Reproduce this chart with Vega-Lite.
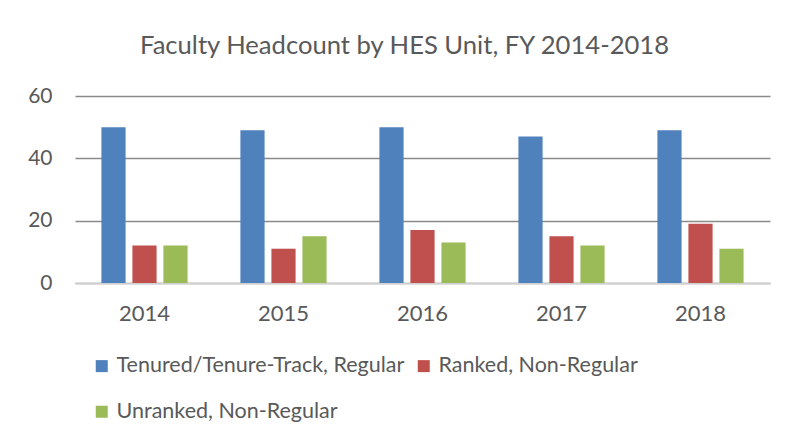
{
  "$schema": "https://vega.github.io/schema/vega-lite/v6.json",
  "width": 695,
  "height": 187,
  "autosize": {"type": "none"},
  "padding": {"left": 75, "top": 96, "right": 15, "bottom": 153},
  "background": "white",
  "title": {
    "text": "Faculty Headcount by HES Unit, FY 2014-2018",
    "font": "Lato",
    "fontSize": 25.6,
    "fontWeight": "normal",
    "color": "#595959",
    "anchor": "middle",
    "dx": -18,
    "offset": 25
  },
  "data": {
    "values": [
      {"year": "2014", "type": "Tenured/Tenure-Track, Regular", "count": 50},
      {"year": "2014", "type": "Ranked, Non-Regular", "count": 12},
      {"year": "2014", "type": "Unranked, Non-Regular", "count": 12},
      {"year": "2015", "type": "Tenured/Tenure-Track, Regular", "count": 49},
      {"year": "2015", "type": "Ranked, Non-Regular", "count": 11},
      {"year": "2015", "type": "Unranked, Non-Regular", "count": 15},
      {"year": "2016", "type": "Tenured/Tenure-Track, Regular", "count": 50},
      {"year": "2016", "type": "Ranked, Non-Regular", "count": 17},
      {"year": "2016", "type": "Unranked, Non-Regular", "count": 13},
      {"year": "2017", "type": "Tenured/Tenure-Track, Regular", "count": 47},
      {"year": "2017", "type": "Ranked, Non-Regular", "count": 15},
      {"year": "2017", "type": "Unranked, Non-Regular", "count": 12},
      {"year": "2018", "type": "Tenured/Tenure-Track, Regular", "count": 49},
      {"year": "2018", "type": "Ranked, Non-Regular", "count": 19},
      {"year": "2018", "type": "Unranked, Non-Regular", "count": 11}
    ]
  },
  "mark": {"type": "bar"},
  "encoding": {
    "x": {
      "field": "year",
      "type": "nominal",
      "scale": {"paddingInner": 0.38, "paddingOuter": 0.19},
      "axis": {
        "title": null,
        "labelAngle": 0,
        "labelFont": "Lato",
        "labelFontSize": 22,
        "labelColor": "#595959",
        "labelPadding": 20,
        "ticks": false,
        "domainColor": "#d0d0d0",
        "domainWidth": 1.5,
        "grid": false
      }
    },
    "xOffset": {
      "field": "type",
      "type": "nominal",
      "sort": ["Tenured/Tenure-Track, Regular", "Ranked, Non-Regular", "Unranked, Non-Regular"],
      "scale": {"paddingInner": 0.22}
    },
    "y": {
      "field": "count",
      "type": "quantitative",
      "scale": {"domain": [0, 60], "nice": false},
      "axis": {
        "title": null,
        "values": [0, 20, 40, 60],
        "labelFont": "Lato",
        "labelFontSize": 21,
        "labelColor": "#595959",
        "labelPadding": 23,
        "ticks": false,
        "domain": false,
        "gridColor": "#8a8a8a",
        "gridWidth": 1.5
      }
    },
    "color": {
      "field": "type",
      "type": "nominal",
      "sort": ["Tenured/Tenure-Track, Regular", "Ranked, Non-Regular", "Unranked, Non-Regular"],
      "scale": {
        "domain": ["Tenured/Tenure-Track, Regular", "Ranked, Non-Regular", "Unranked, Non-Regular"],
        "range": ["#4F81BD", "#C0504D", "#9BBB59"]
      },
      "legend": {
        "title": null,
        "orient": "none",
        "legendX": 16,
        "legendY": 259,
        "direction": "horizontal",
        "columns": 2,
        "columnPadding": 8,
        "rowPadding": 23,
        "symbolType": "square",
        "symbolSize": 144,
        "symbolStrokeWidth": 0,
        "symbolOffset": 0,
        "labelOffset": 4,
        "labelFont": "Lato",
        "labelFontSize": 21.5,
        "labelColor": "#595959",
        "labelLimit": 400
      }
    }
  },
  "config": {
    "view": {"stroke": null}
  }
}
